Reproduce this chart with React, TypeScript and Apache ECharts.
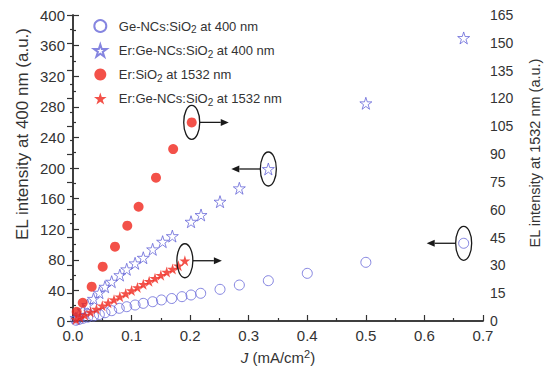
import React, { useEffect, useRef } from "react";
import * as echarts from "echarts";

// ---- data ----
const geNcX400 = [0.005, 0.01, 0.017, 0.025, 0.035, 0.045, 0.0546, 0.066, 0.079, 0.0917, 0.106, 0.12, 0.136, 0.151, 0.1685, 0.186, 0.2015, 0.218, 0.251, 0.284, 0.3335, 0.4, 0.5, 0.667];
const geNcY400 = [1, 2, 3.5, 5, 6.5, 8.5, 10.8, 13.5, 16.6, 18.7, 20.9, 23.1, 25.2, 27.5, 29.4, 31.8, 34, 36.2, 41.4, 47, 52.7, 62.3, 76.7, 101.6];

const erGeX400 = [0.005, 0.01, 0.017, 0.025, 0.035, 0.045, 0.0546, 0.066, 0.08, 0.0917, 0.106, 0.12, 0.136, 0.153, 0.1696, 0.2015, 0.2186, 0.251, 0.284, 0.3335, 0.5, 0.667];
const erGeY400 = [4, 8, 14, 21, 29, 37, 44.8, 51.4, 60, 67.6, 75.4, 82.7, 93.7, 103.7, 111, 129.8, 138.6, 156, 173.5, 198.7, 284.6, 370];

const erSiX1532 = [0.0063, 0.0166, 0.0319, 0.0507, 0.0717, 0.0927, 0.112, 0.1417, 0.171, 0.2027];
const erSiY1532 = [5.0, 9.8, 18.5, 29.3, 40.1, 51.4, 61.6, 77.3, 92.7, 107.1];

const erGeX1532 = [0.005, 0.012, 0.02, 0.03, 0.04, 0.05, 0.06, 0.07, 0.08, 0.09, 0.1, 0.11, 0.12, 0.13, 0.14, 0.15, 0.16, 0.17, 0.18, 0.191];
const erGeY1532 = [0.8, 1.9, 3.2, 4.8, 6.4, 8.2, 9.8, 11.5, 13.1, 14.8, 16.4, 18.1, 19.8, 21.4, 23.0, 24.7, 26.4, 28.0, 29.8, 32.5];

const seriesNames = [
  "Ge-NCs:SiO2 at 400 nm",
  "Er:Ge-NCs:SiO2 at 400 nm",
  "Er:SiO2 at 1532 nm",
  "Er:Ge-NCs:SiO2 at 1532 nm",
];

const leftAxisName = "EL intensity at 400 nm (a.u.)";
const rightAxisName = "EL intensity at 1532 nm (a.u.)";

const STAR =
  "path://M50 0 L61.17 34.63 L97.55 34.55 L68.07 55.87 L79.39 90.45 L50 69 L20.61 90.45 L31.93 55.87 L2.45 34.55 L38.83 34.63 Z";

const BLUE = "#6666d8";
const RED = "#f0261c";
const INK = "#333";
const FONT = "Liberation Sans, Arial, sans-serif";

const zip = (xs: number[], ys: number[]) => xs.map((x, i) => [x, ys[i]]);

export default function App() {
  const ref = useRef<HTMLDivElement>(null);
  useEffect(() => {
    if (!ref.current) return;
    const chart = echarts.init(ref.current, undefined, { renderer: "svg" });
    const line = { show: true, lineStyle: { color: INK, width: 1.5 } };
    const tick = { show: true, inside: false, length: -6, lineStyle: { color: INK, width: 1.2 } };
    const minor = { show: true, splitNumber: 2, length: -3, lineStyle: { color: INK, width: 1.2 } };
    chart.setOption({
      animation: false,
      backgroundColor: "#fff",
      grid: { left: 73, right: 66, top: 15, bottom: 56 },
      legend: {
        orient: "vertical",
        left: 88,
        top: 14,
        itemWidth: 13,
        itemHeight: 12,
        itemGap: 9,
        data: seriesNames,
        textStyle: {
          color: INK,
          fontSize: 13,
          fontFamily: FONT,
          padding: [0, 0, 0, 7],
          rich: {
            sub: { fontSize: 10, fontFamily: FONT, color: INK, padding: [7, 0, 0, 0] },
          },
        },
        formatter: (name: string) => name.replace("SiO2", "SiO{sub|2}"),
      },
      xAxis: [
        {
          type: "value",
          min: 0,
          max: 0.7,
          interval: 0.1,
          axisLine: line,
          axisTick: tick,
          minorTick: minor,
          splitLine: { show: false },
          axisLabel: { color: INK, fontSize: 15, fontFamily: FONT, margin: 7, formatter: (v: number) => v.toFixed(1) },
          name: "{i|J} (mA/cm{sup|2})",
          nameLocation: "middle",
          nameGap: 27,
          nameTextStyle: {
            color: INK,
            fontSize: 15,
            fontFamily: FONT,
            rich: {
              i: { fontStyle: "italic", fontSize: 15, fontFamily: FONT, color: INK },
              sup: { fontSize: 11, fontFamily: FONT, color: INK, padding: [0, 0, 8, 0] },
            },
          },
        },
        {
          type: "value",
          position: "top",
          min: 0,
          max: 0.7,
          axisLine: line,
          axisTick: { show: false },
          axisLabel: { show: false },
          splitLine: { show: false },
        },
      ],
      yAxis: [
        {
          type: "value",
          min: 0,
          max: 400,
          interval: 40,
          axisLine: line,
          axisTick: tick,
          minorTick: minor,
          splitLine: { show: false },
          axisLabel: { color: INK, fontSize: 15, fontFamily: FONT, margin: 8 },
        },
        {
          type: "value",
          position: "right",
          min: 0,
          max: 165,
          interval: 15,
          axisLine: line,
          axisTick: tick,
          minorTick: minor,
          splitLine: { show: false },
          axisLabel: { color: INK, fontSize: 14, fontFamily: FONT, margin: 7 },
        },
      ],
      series: [
        {
          name: seriesNames[0],
          type: "scatter",
          xAxisIndex: 0,
          yAxisIndex: 0,
          symbol: "circle",
          symbolSize: 10,
          itemStyle: { color: "rgba(255,255,255,0)", borderColor: BLUE, borderWidth: 1 },
          data: zip(geNcX400, geNcY400),
        },
        {
          name: seriesNames[1],
          type: "scatter",
          xAxisIndex: 0,
          yAxisIndex: 0,
          symbol: STAR,
          symbolSize: 12,
          itemStyle: { color: "rgba(255,255,255,0)", borderColor: BLUE, borderWidth: 1 },
          data: zip(erGeX400, erGeY400),
        },
        {
          name: seriesNames[2],
          type: "scatter",
          xAxisIndex: 0,
          yAxisIndex: 1,
          symbol: "circle",
          symbolSize: 10,
          itemStyle: { color: RED },
          data: zip(erSiX1532, erSiY1532),
        },
        {
          name: seriesNames[3],
          type: "scatter",
          xAxisIndex: 0,
          yAxisIndex: 1,
          symbol: STAR,
          symbolSize: 11,
          itemStyle: { color: RED },
          data: zip(erGeX1532, erGeY1532),
        },
      ],
    });

    // annotations: ellipse around a point + arrow toward its axis
    const notes: { x: number; y: number; yAxisIndex: number; dir: number }[] = [
      { x: erSiX1532[erSiX1532.length - 1], y: erSiY1532[erSiY1532.length - 1], yAxisIndex: 1, dir: 1 },
      { x: erGeX400[19], y: erGeY400[19], yAxisIndex: 0, dir: -1 },
      { x: erGeX1532[erGeX1532.length - 1], y: erGeY1532[erGeY1532.length - 1], yAxisIndex: 1, dir: 1 },
      { x: geNcX400[geNcX400.length - 1], y: geNcY400[geNcY400.length - 1], yAxisIndex: 0, dir: -1 },
    ];
    const elements: any[] = [];
    notes.forEach((n) => {
      const p = chart.convertToPixel({ xAxisIndex: 0, yAxisIndex: n.yAxisIndex }, [n.x, n.y]) as number[];
      const rx = 8;
      const ry = 17;
      elements.push({
        type: "ellipse",
        shape: { cx: p[0], cy: p[1], rx, ry },
        style: { fill: "none", stroke: "#1a1a1a", lineWidth: 1.3 },
        z: 10,
      });
      const start = p[0] + n.dir * rx;
      const tip = start + n.dir * 29;
      const headBase = tip - n.dir * 8;
      elements.push({
        type: "line",
        shape: { x1: start, y1: p[1], x2: headBase, y2: p[1] },
        style: { stroke: "#1a1a1a", lineWidth: 1.3 },
        z: 10,
      });
      elements.push({
        type: "polygon",
        shape: { points: [[tip, p[1]], [headBase, p[1] - 3.5], [headBase, p[1] + 3.5]] },
        style: { fill: "#1a1a1a" },
        z: 10,
      });
    });
    // rotated y-axis titles
    elements.push({
      type: "text",
      x: 22,
      y: 134,
      rotation: Math.PI / 2,
      style: {
        text: leftAxisName,
        fill: INK,
        fontSize: 17,
        fontFamily: FONT,
        textAlign: "center",
        textVerticalAlign: "middle",
        align: "center",
        verticalAlign: "middle",
      },
    });
    elements.push({
      type: "text",
      x: 535,
      y: 153,
      rotation: Math.PI / 2,
      style: {
        text: rightAxisName,
        fill: INK,
        fontSize: 14.5,
        fontFamily: FONT,
        textAlign: "center",
        textVerticalAlign: "middle",
        align: "center",
        verticalAlign: "middle",
      },
    });
    chart.setOption({ graphic: elements });

    return () => chart.dispose();
  }, []);
  return (
    <div
      ref={ref}
      style={{ position: "fixed", left: 0, top: 0, width: 549, height: 377 }}
    />
  );
}
